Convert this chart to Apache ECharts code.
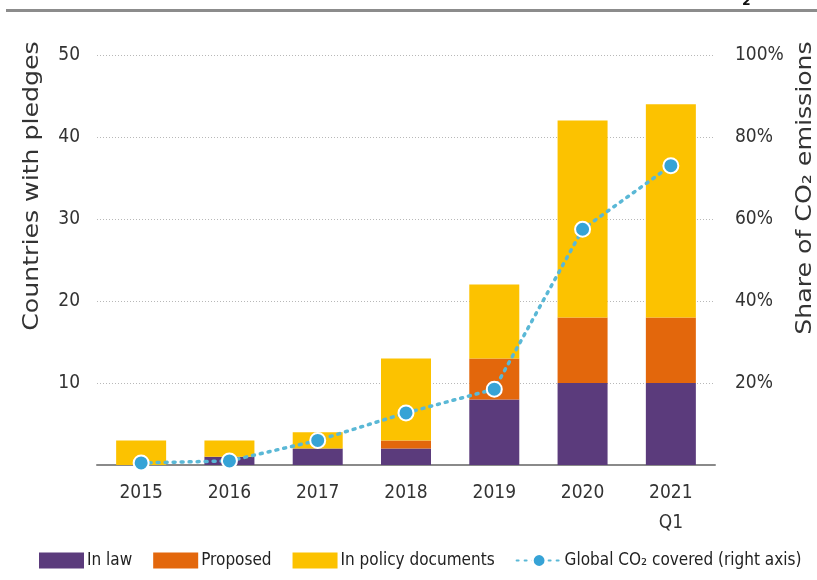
<!DOCTYPE html>
<html>
<head>
<meta charset="utf-8">
<script src="https://cdn.jsdelivr.net/npm/echarts@6/dist/echarts.min.js"></script>
<style>html,body{margin:0;padding:0;background:#fff}#c{width:817px;height:580px}</style>
</head>
<body>
<div id="c"></div>
<script>
var categories = ['2015', '2016', '2017', '2018', '2019', '2020', '2021\nQ1'];
var inLaw = [0, 1, 2, 2, 8, 10, 10];
var proposed = [0, 0, 0, 1, 5, 8, 8];
var inPolicy = [3, 2, 2, 10, 9, 24, 26];
var co2Share = [0.5, 1, 6, 12.7, 18.5, 57.5, 73];
var leftTicks = [10, 20, 30, 40, 50];
var rightTicks = [20, 40, 60, 80, 100];

var FONT = '"DejaVu Sans Condensed", "Liberation Sans Narrow", sans-serif';
var NAMEFONT = '"DejaVu Sans", sans-serif';
var chart = echarts.init(document.getElementById('c'));
chart.setOption({
  animation: false,
  backgroundColor: '#fff',
  grid: {left: 97, right: 102, top: 55, bottom: 115, containLabel: false},
  legend: {
    bottom: 6, left: 34, width: 800,
    itemWidth: 45, itemHeight: 16, itemGap: 21,
    textStyle: {fontFamily: FONT, fontSize: 17, color: '#222', padding: [0, 0, 0, -2]},
    data: [
      {name: 'In law', icon: 'rect'},
      {name: 'Proposed', icon: 'rect'},
      {name: 'In policy documents', icon: 'rect'},
      {name: 'Global CO\u2082 covered (right axis)'}
    ]
  },
  xAxis: {
    type: 'category',
    data: categories,
    axisLine: {lineStyle: {color: '#8a8a8a', width: 2}},
    axisTick: {show: false},
    axisLabel: {fontFamily: FONT, fontSize: 19, color: '#333', margin: 13, lineHeight: 30}
  },
  yAxis: [
    {
      type: 'value', min: 0, max: 50, interval: 10,
      axisLine: {show: false}, axisTick: {show: false},
      axisLabel: {fontFamily: FONT, fontSize: 19, color: '#333', margin: 17,
        formatter: function (v) { return leftTicks.indexOf(v) >= 0 ? String(v) : ''; }},
      splitLine: {lineStyle: {color: '#b8b8b8', type: [1, 2], width: 1}}
    },
    {
      type: 'value', min: 0, max: 100, interval: 20,
      axisLine: {show: false}, axisTick: {show: false},
      axisLabel: {fontFamily: FONT, fontSize: 19, color: '#333', margin: 20,
        formatter: function (v) { return rightTicks.indexOf(v) >= 0 ? v + '%' : ''; }},
      splitLine: {show: false}
    }
  ],
  series: [
    {name: 'In law', type: 'bar', stack: 's', data: inLaw, barWidth: 50, itemStyle: {color: '#5b3b7c'}},
    {name: 'Proposed', type: 'bar', stack: 's', data: proposed, barWidth: 50, itemStyle: {color: '#e3670c'}},
    {name: 'In policy documents', type: 'bar', stack: 's', data: inPolicy, barWidth: 50, itemStyle: {color: '#fcc200'}},
    {
      name: 'Global CO\u2082 covered (right axis)', type: 'line', yAxisIndex: 1, data: co2Share,
      symbol: 'circle', symbolSize: 15, z: 5,
      lineStyle: {color: '#5ab8d6', width: 3.5, type: [2, 6], cap: 'round'},
      itemStyle: {color: '#36a3d6', borderColor: '#fff', borderWidth: 2}
    }
  ],
  graphic: [
    {type: 'rect', shape: {x: 6, y: 9, width: 811, height: 3}, style: {fill: '#8c8c8c'}},
    {type: 'text', x: 742, y: -12, style: {text: '\u2082', fontSize: 22, fontWeight: 'bold', fill: '#111', fontFamily: FONT}},
    {type: 'text', x: 33, y: 186, rotation: Math.PI / 2, scaleX: 1.2, style: {text: 'Countries with pledges', fontFamily: NAMEFONT, fontSize: 21, fill: '#333', align: 'center', verticalAlign: 'middle'}},
    {type: 'text', x: 806, y: 188, rotation: Math.PI / 2, scaleX: 1.2, style: {text: 'Share of CO\u2082 emissions', fontFamily: NAMEFONT, fontSize: 21, fill: '#333', align: 'center', verticalAlign: 'middle'}}
  ]
});
</script>
</body>
</html>
